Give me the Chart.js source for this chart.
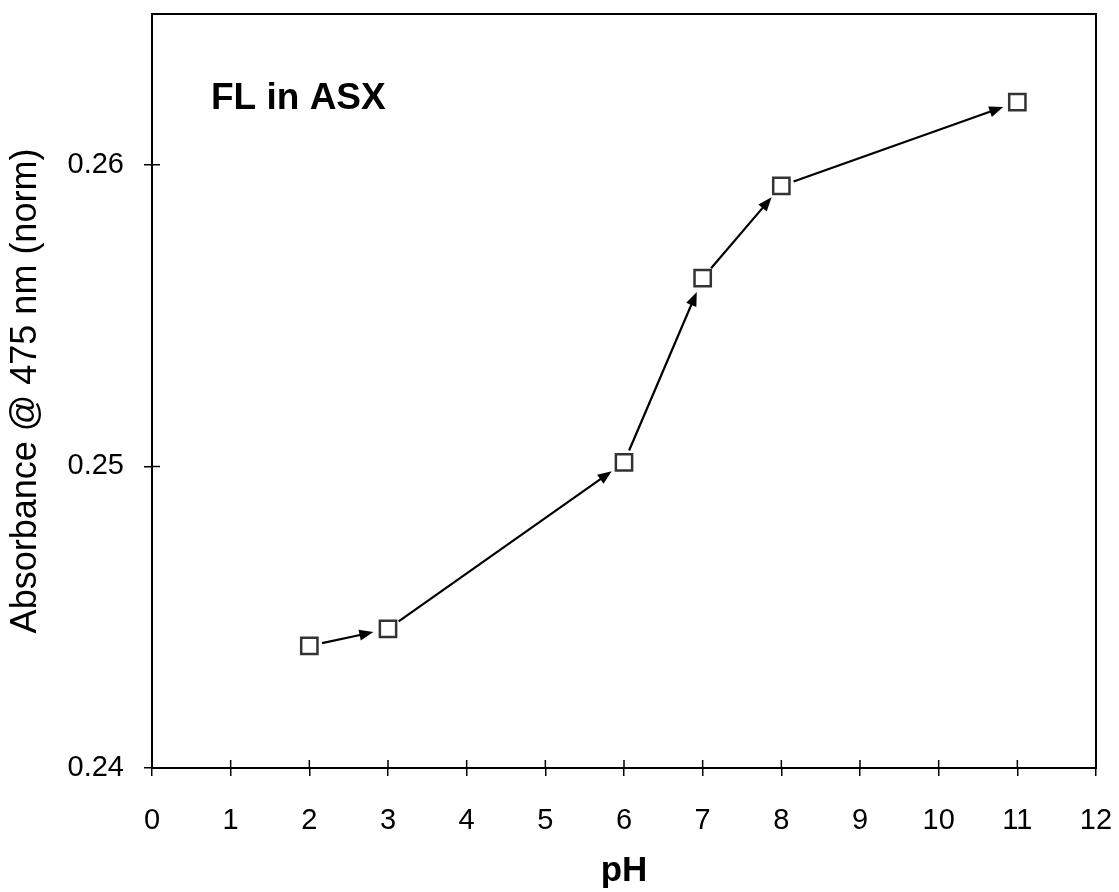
<!DOCTYPE html>
<html>
<head>
<meta charset="utf-8">
<script src="https://cdn.jsdelivr.net/npm/chart.js@4.4.1/dist/chart.umd.min.js"></script>
<style>
  html, body { margin: 0; padding: 0; background: #fff; }
  #wrap { width: 1119px; height: 892px; }
</style>
</head>
<body>
<div id="wrap"><canvas id="phChart" width="1119" height="892"></canvas></div>
<script>
const phValues = [2, 3, 6, 7, 8, 11];
const absorbance = [0.24405, 0.24461, 0.25013, 0.25624, 0.2593, 0.26208];
const xTicks = [0, 1, 2, 3, 4, 5, 6, 7, 8, 9, 10, 11, 12];
const yTicks = [0.24, 0.25, 0.26];

const FONT = "'Liberation Sans', Arial, sans-serif";

// frame, inward tick halves, and arrows joining consecutive points
const framePlugin = {
  id: "frame",
  beforeDatasetsDraw(chart) {
    const { ctx, chartArea: a, scales } = chart;
    ctx.save();
    ctx.strokeStyle = "#000";
    ctx.lineWidth = 2;
    ctx.strokeRect(a.left, a.top, a.right - a.left, a.bottom - a.top);

    ctx.lineWidth = 1.5;
    ctx.beginPath();
    xTicks.forEach((v) => {
      const px = scales.x.getPixelForValue(v);
      ctx.moveTo(px, a.bottom);
      ctx.lineTo(px, a.bottom - 8);
    });
    yTicks.forEach((v) => {
      const py = scales.y.getPixelForValue(v);
      ctx.moveTo(a.left, py);
      ctx.lineTo(a.left + 8, py);
    });
    ctx.stroke();

    const pts = chart.getDatasetMeta(0).data;
    const startGap = 13;
    const endGap = 15;
    const head = 14;
    const halfW = 5.5;
    for (let i = 0; i < pts.length - 1; i++) {
      const p0 = pts[i], p1 = pts[i + 1];
      const dx = p1.x - p0.x, dy = p1.y - p0.y;
      const len = Math.hypot(dx, dy);
      const ux = dx / len, uy = dy / len;
      const sx = p0.x + ux * startGap, sy = p0.y + uy * startGap;
      const ex = p1.x - ux * endGap, ey = p1.y - uy * endGap;
      ctx.lineWidth = 2.2;
      ctx.beginPath();
      ctx.moveTo(sx, sy);
      ctx.lineTo(ex - ux * head * 0.8, ey - uy * head * 0.8);
      ctx.stroke();
      ctx.beginPath();
      ctx.moveTo(ex, ey);
      ctx.lineTo(ex - ux * head - uy * halfW, ey - uy * head + ux * halfW);
      ctx.lineTo(ex - ux * head + uy * halfW, ey - uy * head - ux * halfW);
      ctx.closePath();
      ctx.fillStyle = "#000";
      ctx.fill();
    }

    // label inside the plot
    ctx.font = "bold 37px " + FONT;
    ctx.textBaseline = "alphabetic";
    ctx.textAlign = "left";
    ctx.fillText("FL in ASX", a.left + 59, 109);
    ctx.restore();
  },
};

const ctx = document.getElementById("phChart").getContext("2d");

new Chart(ctx, {
  type: "scatter",
  data: {
    datasets: [
      {
        label: "FL in ASX",
        data: phValues.map((x, i) => ({ x: x, y: absorbance[i] })),
        pointStyle: "rect",
        pointRadius: 11.5,
        pointHoverRadius: 11.5,
        pointBackgroundColor: "#fff",
        pointBorderColor: "#333",
        pointBorderWidth: 2.5,
        showLine: false,
      },
    ],
  },
  options: {
    responsive: false,
    animation: false,
    events: [],
    layout: { padding: { left: 0, right: 23, top: 13, bottom: 0 } },
    plugins: {
      legend: { display: false },
      tooltip: { enabled: false },
    },
    scales: {
      x: {
        type: "linear",
        min: 0,
        max: 12,
        afterFit: (scale) => {
          scale.height = 124;
          scale.paddingLeft = 0;
          scale.paddingRight = 0;
        },
        afterBuildTicks: (scale) => { scale.ticks = xTicks.map((v) => ({ value: v })); },
        grid: { drawOnChartArea: false, drawTicks: true, tickLength: 8, color: "#000", lineWidth: 1.5 },
        border: { display: true, color: "#000", width: 2 },
        ticks: {
          color: "#000",
          padding: 28,
          maxRotation: 0,
          font: { family: FONT, size: 29 },
        },
        title: {
          display: true,
          text: "pH",
          color: "#000",
          padding: { top: 0, bottom: 0 },
          font: { family: FONT, size: 35, weight: "bold" },
        },
      },
      y: {
        type: "linear",
        min: 0.24,
        max: 0.265,
        afterFit: (scale) => {
          scale.width = 152;
          scale.paddingTop = 0;
          scale.paddingBottom = 0;
        },
        afterBuildTicks: (scale) => { scale.ticks = yTicks.map((v) => ({ value: v })); },
        grid: { drawOnChartArea: false, drawTicks: true, tickLength: 8, color: "#000", lineWidth: 1.5 },
        border: { display: true, color: "#000", width: 2 },
        ticks: {
          color: "#000",
          padding: 20,
          font: { family: FONT, size: 29 },
          callback: (v) => v.toFixed(2),
        },
        title: {
          display: true,
          text: "Absorbance @ 475 nm (norm)",
          color: "#000",
          padding: { top: 4, bottom: 0 },
          font: { family: FONT, size: 36 },
        },
      },
    },
  },
  plugins: [framePlugin],
});
</script>
</body>
</html>
